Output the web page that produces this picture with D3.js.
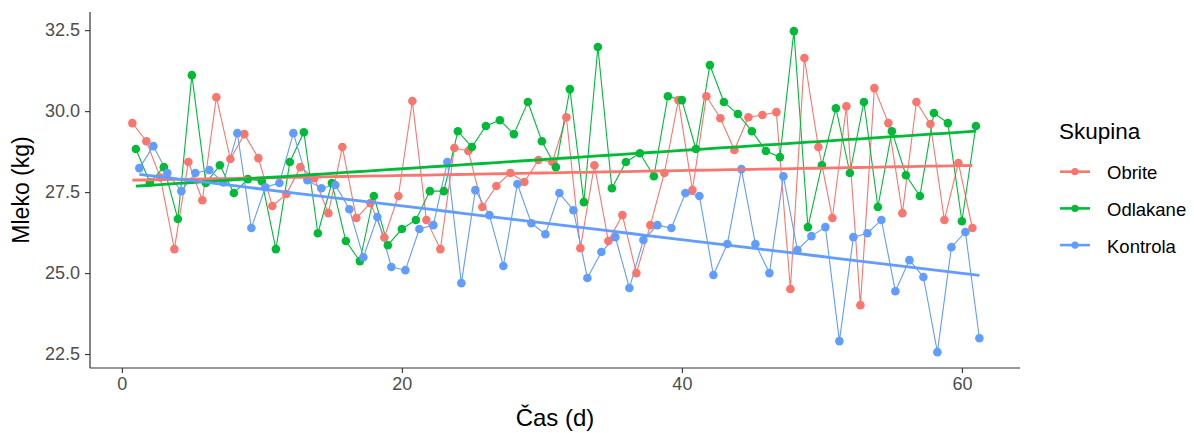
<!DOCTYPE html>
<html><head><meta charset="utf-8">
<script src="https://cdn.jsdelivr.net/npm/d3@7"></script>
<style>body{margin:0;background:#fff;} svg{display:block;font-family:"Liberation Sans",Arial,sans-serif;}</style>
</head><body>
<svg id="c" width="1194" height="433"></svg>
<script>
const days = d3.range(1, 62);
const groups = ["Obrite", "Odlakane", "Kontrola"];
const colors = ["#F8766D", "#00BA38", "#619CFF"];
const obrite = [29.63,29.07,27.95,25.74,28.43,27.25,30.43,28.52,29.29,28.55,
 27.07,27.44,28.27,27.93,26.85,28.89,26.7,27.16,26.1,27.38,
 30.31,26.64,25.74,28.86,28.77,27.04,27.69,28.09,27.81,28.49,
 28.43,29.81,25.77,28.33,25.99,26.79,25.0,26.48,28.09,30.34,
 27.56,30.46,29.78,28.8,29.81,29.88,29.97,24.51,31.64,28.89,
 26.7,30.15,24.01,30.71,29.63,26.85,30.28,29.6,26.64,28.4,26.39];
const odlakane = [28.83,27.8,28.27,26.67,31.11,27.78,28.33,27.47,27.9,27.84,
 25.74,28.43,29.35,26.23,27.78,25.99,25.37,27.38,25.86,26.36,
 26.64,27.53,27.53,29.38,28.89,29.54,29.72,29.29,30.28,29.07,
 28.27,30.68,27.19,31.98,27.62,28.43,28.7,27.99,30.46,30.34,
 28.83,31.42,30.28,29.91,29.38,28.77,28.58,32.47,26.42,28.33,
 30.09,28.09,30.28,27.04,29.38,28.02,27.38,29.94,29.63,26.6,29.54];
const kontrola = [28.24,28.92,28.09,27.53,28.09,28.18,27.8,29.32,26.39,27.65,
 27.78,29.32,27.87,27.62,27.72,26.97,25.49,26.73,25.19,25.09,
 26.36,26.48,28.43,24.69,27.56,26.79,25.22,27.75,26.54,26.2,
 27.47,26.94,24.85,25.65,26.11,24.54,26.02,26.48,26.39,27.47,
 27.38,24.94,25.9,28.21,25.9,25.0,27.99,25.71,26.14,26.42,
 22.9,26.11,26.23,26.64,24.44,25.4,24.88,22.56,25.8,26.27,22.99];
const xTicks = [0, 20, 40, 60];
const yTicks = [22.5, 25.0, 27.5, 30.0, 32.5];
const dodge = [-0.25, 0, 0.25];

const series = [obrite, odlakane, kontrola].map((vals, gi) => ({
  name: groups[gi], color: colors[gi],
  pts: vals.map((v, i) => ({x: days[i] + dodge[gi], d: days[i], y: v}))
}));

const svg = d3.select("#c");
const L = 90, R = 1020, T = 12, B = 368;
const x = d3.scaleLinear().domain([-2.275, 64.15]).range([L, R]);
const y = d3.scaleLinear().domain([22.07, 33.06]).range([B, T]);

const plot = svg.append("g");
const line = d3.line().x(p => x(p.x)).y(p => y(p.y));

series.forEach(s => {
  plot.append("path").datum(s.pts).attr("d", line)
    .attr("fill", "none").attr("stroke", s.color).attr("stroke-width", 1.1);
});
series.forEach(s => {
  plot.selectAll(null).data(s.pts).enter().append("circle")
    .attr("cx", p => x(p.x)).attr("cy", p => y(p.y)).attr("r", 4.3)
    .attr("fill", s.color);
});
// linear regression lines (least squares)
series.forEach(s => {
  const mx = d3.mean(s.pts, p => p.x), my = d3.mean(s.pts, p => p.y);
  const sxy = d3.sum(s.pts, p => (p.x - mx) * (p.y - my));
  const sxx = d3.sum(s.pts, p => (p.x - mx) * (p.x - mx));
  const b = sxy / sxx, a = my - b * mx;
  const ext = d3.extent(s.pts, p => p.x);
  const fit = d3.range(0, 81).map(i => { const xv = ext[0] + (ext[1] - ext[0]) * i / 80; return {x: xv, y: a + b * xv}; });
  plot.append("path").datum(fit).attr("d", line)
    .attr("fill", "none").attr("stroke", s.color).attr("stroke-width", 2.8);
});

// axes
const axCol = "#333333";
const xa = svg.append("g").attr("transform", `translate(0,${B})`)
  .call(d3.axisBottom(x).tickValues(xTicks).tickSize(5).tickPadding(4));
const ya = svg.append("g").attr("transform", `translate(${L},0)`)
  .call(d3.axisLeft(y).tickValues(yTicks).tickFormat(d3.format(".1f")).tickSize(5).tickPadding(5));
[xa, ya].forEach(g => {
  g.select(".domain").attr("stroke", axCol).attr("stroke-width", 1.2);
  g.selectAll(".tick line").attr("stroke", axCol).attr("stroke-width", 1.1);
  g.selectAll(".tick text").attr("fill", "#4D4D4D").attr("font-size", "18px")
    .attr("font-family", "'Liberation Sans',Arial,sans-serif");
});
xa.select(".domain").attr("d", `M${L},0H${R}`);
ya.select(".domain").attr("d", `M0,${B}V${T}`);

svg.append("text").attr("x", (L + R) / 2).attr("y", 426).attr("text-anchor", "middle")
  .attr("font-size", "24px").attr("fill", "#000").text("Čas (d)");
svg.append("text").attr("transform", `translate(29,${(T + B) / 2}) rotate(-90)`)
  .attr("text-anchor", "middle").attr("font-size", "23px").attr("fill", "#000").text("Mleko (kg)");

// legend
const lg = svg.append("g");
lg.append("text").attr("x", 1059).attr("y", 139).attr("font-size", "22.5px").attr("fill", "#000").text("Skupina");
series.forEach((s, i) => {
  const cy = 171.7 + i * 36.7;
  lg.append("line").attr("x1", 1060).attr("x2", 1090).attr("y1", cy).attr("y2", cy)
    .attr("stroke", s.color).attr("stroke-width", 2.6);
  lg.append("circle").attr("cx", 1075).attr("cy", cy).attr("r", 3.6).attr("fill", s.color);
  lg.append("text").attr("x", 1107).attr("y", cy + 7.5).attr("font-size", "18.5px").attr("fill", "#000").text(s.name);
});
</script>
</body></html>
